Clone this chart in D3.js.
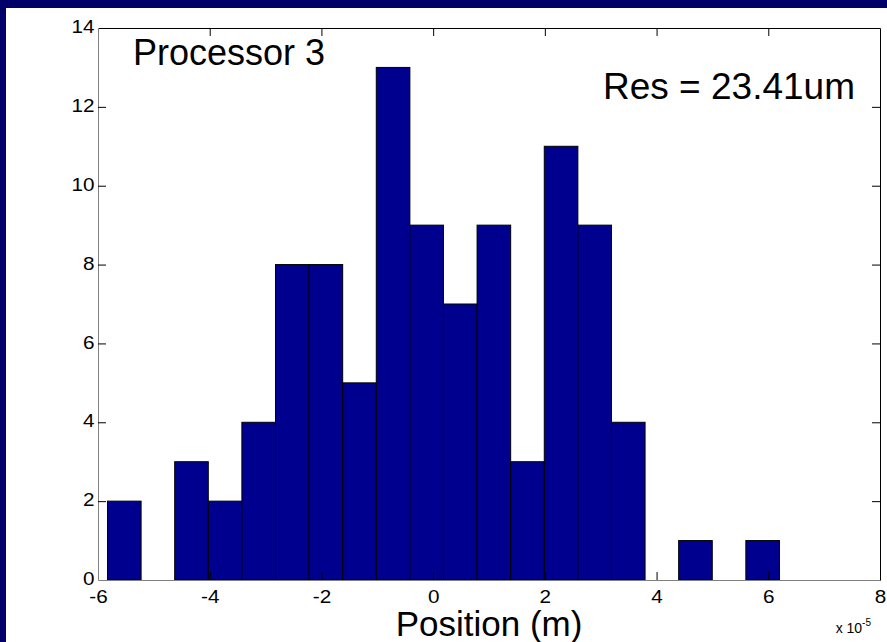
<!DOCTYPE html>
<html>
<head>
<meta charset="utf-8">
<script src="https://d3js.org/d3.v7.min.js"></script>
<style>
html, body { margin: 0; padding: 0; }
body { background: #fff; }
svg { display: block; font-family: 'Liberation Sans', Arial, sans-serif; }
</style>
</head>
<body>
<script>
// histogram counts (20 bins between min and max of the data, units of 1e-5 m)
var binMin = -5.83, binMax = 6.20;
var counts = [2, 0, 3, 2, 4, 8, 8, 5, 13, 9, 7, 9, 3, 11, 9, 4, 0, 1, 0, 1];
var xTicks = [-6, -4, -2, 0, 2, 4, 6, 8];
var yTicks = [0, 2, 4, 6, 8, 10, 12, 14];

var W = 887, H = 642;
var margin = {top: 28, right: 7, bottom: 62, left: 98};

var svg = d3.select("body").append("svg")
  .attr("width", W)
  .attr("height", H);

// navy frame on top and left
svg.append("rect").attr("x", 0).attr("y", 0).attr("width", W).attr("height", 8).attr("fill", "#000068");
svg.append("rect").attr("x", 0).attr("y", 0).attr("width", 6).attr("height", H).attr("fill", "#000068");

var x = d3.scaleLinear().domain([-6, 8]).range([margin.left, W - margin.right]);
var y = d3.scaleLinear().domain([0, 14]).range([H - margin.bottom, margin.top]);

var bw = (binMax - binMin) / counts.length;
var bins = counts.map(function(c, i) {
  return {x0: binMin + i * bw, x1: binMin + (i + 1) * bw, n: c};
});

// bars
svg.append("g").selectAll("rect")
  .data(bins.filter(function(d) { return d.n > 0; }))
  .enter().append("rect")
  .attr("x", function(d) { return x(d.x0); })
  .attr("y", function(d) { return y(d.n); })
  .attr("width", function(d) { return x(d.x1) - x(d.x0); })
  .attr("height", function(d) { return y(0) - y(d.n); })
  .attr("fill", "#00008F")
  .attr("stroke", "#000")
  .attr("stroke-width", 1);

// axes, ticks inward
var tl = 8;
var fmt = function(d) { return String(d); };
var axB = svg.append("g").attr("transform", "translate(0," + y(0) + ")")
  .call(d3.axisBottom(x).tickValues(xTicks).tickSizeInner(-tl).tickSizeOuter(0).tickPadding(tl + 2).tickFormat(fmt));
var axT = svg.append("g").attr("transform", "translate(0," + y(14) + ")")
  .call(d3.axisTop(x).tickValues(xTicks).tickSizeInner(-tl).tickSizeOuter(0).tickFormat(""));
var axL = svg.append("g").attr("transform", "translate(" + x(-6) + ",0)")
  .call(d3.axisLeft(y).tickValues(yTicks).tickSizeInner(-tl).tickSizeOuter(0).tickPadding(3).tickFormat(fmt));
var axR = svg.append("g").attr("transform", "translate(" + x(8) + ",0)")
  .call(d3.axisRight(y).tickValues(yTicks).tickSizeInner(-tl).tickSizeOuter(0).tickFormat(""));

axB.attr("font-size", 18);
axL.attr("font-size", 18);
[axB, axL].forEach(function(g) {
  g.selectAll("text")
    .attr("font-size", 18)
    .attr("font-family", "'Liberation Sans', Arial, sans-serif")
    .attr("fill", "#000")
    .attr("transform", "scale(1.15,1)");
});
axL.selectAll("text").attr("dy", "0.26em");
[axB, axT, axL, axR].forEach(function(g) {
  g.selectAll(".tick line").attr("stroke", "#000");
});
axB.select(".domain").attr("stroke", "#808080");
axL.select(".domain").attr("stroke", "#808080");
axT.select(".domain").attr("stroke", "#000");
axR.select(".domain").attr("stroke", "#000");
// drop the end ticks that sit on the box
axB.selectAll(".tick line").filter(function(d) { return d === -6 || d === 8; }).remove();
axT.selectAll(".tick line").filter(function(d) { return d === -6 || d === 8; }).remove();
axL.selectAll(".tick line").filter(function(d) { return d === 0 || d === 14; }).remove();
axR.selectAll(".tick line").filter(function(d) { return d === 0 || d === 14; }).remove();

// texts
svg.append("text").attr("x", 133).attr("y", 65)
  .style("font-size", "36px").attr("fill", "#000").text("Processor 3");
svg.append("text").attr("x", 855).attr("y", 99)
  .attr("text-anchor", "end").style("font-size", "37px").attr("fill", "#000").text("Res = 23.41um");
svg.append("text").attr("x", (x(-6) + x(8)) / 2).attr("y", 636)
  .attr("text-anchor", "middle").style("font-size", "35px").attr("fill", "#000").text("Position (m)");
var ex = svg.append("text").attr("x", 871).attr("y", 633)
  .attr("text-anchor", "end").style("font-size", "14px").attr("fill", "#000");
ex.append("tspan").text("x 10");
ex.append("tspan").attr("dy", -7).style("font-size", "10px").text("-5");
</script>
</body>
</html>
